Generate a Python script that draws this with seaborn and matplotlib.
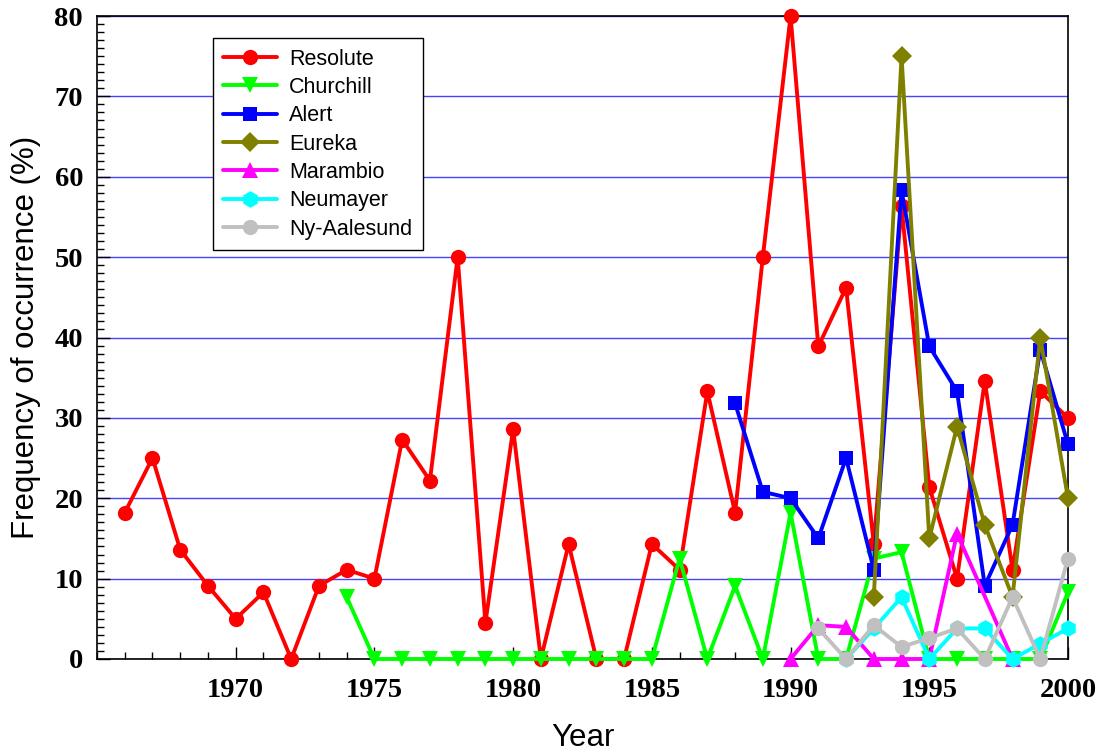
import matplotlib
matplotlib.use("Agg")
import matplotlib.pyplot as plt
import seaborn as sns
from matplotlib.ticker import MultipleLocator

sns.set_theme(style="white")
plt.rcParams['font.family'] = ['Liberation Sans', 'DejaVu Sans']
plt.rcParams['text.color'] = 'black'
plt.rcParams['axes.labelcolor'] = 'black'

# ---- data ----
resolute_years = list(range(1966, 2001))
resolute_vals = [18.2, 25.0, 13.6, 9.1, 5.0, 8.3, 0.0, 9.1, 11.1, 10.0,
                 27.3, 22.2, 50.0, 4.5, 28.6, 0.0, 14.3, 0.0, 0.0, 14.3,
                 11.1, 33.3, 18.2, 50.0, 80.0, 38.9, 46.2, 14.3, 56.3, 21.4,
                 10.0, 34.6, 11.1, 33.3, 30.0]

churchill_years = list(range(1974, 2001))
churchill_vals = [7.7, 0, 0, 0, 0, 0, 0, 0, 0, 0, 0, 0,
                  12.5, 0, 9.1, 0, 18.2, 0, 0, 12.5, 13.3, 0, 0, 0, 0, 0, 8.3]

alert_years = list(range(1988, 2001))
alert_vals = [31.8, 20.8, 20.0, 15.0, 25.0, 11.1, 58.3, 38.9, 33.3, 9.1, 16.7, 38.5, 26.7]

eureka_years = list(range(1993, 2001))
eureka_vals = [7.7, 75.0, 15.0, 28.9, 16.7, 7.7, 40.0, 20.0]

marambio_years = [1990, 1991, 1992, 1993, 1994, 1995, 1996, 1998]
marambio_vals = [0.0, 4.2, 4.0, 0.0, 0.0, 0.0, 15.6, 0.0]

neumayer_years = list(range(1992, 2001))
neumayer_vals = [0.0, 3.8, 7.7, 0.0, 3.8, 3.8, 0.0, 1.9, 3.8]

nyaalesund_years = list(range(1991, 2001))
nyaalesund_vals = [3.8, 0.0, 4.2, 1.5, 2.6, 3.8, 0.0, 7.7, 0.0, 12.5]

series = [
    ("Resolute", resolute_years, resolute_vals, "#ff0000", "o", 11),
    ("Churchill", churchill_years, churchill_vals, "#00ff00", "v", 11),
    ("Alert", alert_years, alert_vals, "#0000ff", "s", 10),
    ("Eureka", eureka_years, eureka_vals, "#808000", "D", 10),
    ("Marambio", marambio_years, marambio_vals, "#ff00ff", "^", 11),
    ("Neumayer", neumayer_years, neumayer_vals, "#00ffff", "h", 12),
    ("Ny-Aalesund", nyaalesund_years, nyaalesund_vals, "#c0c0c0", "o", 11),
]

fig = plt.figure(figsize=(10.99, 7.52), dpi=100)
ax = fig.add_axes([97/1099, 1 - 659/752, (1068-97)/1099, (659-16)/752])

for name, xs, ys, col, mk, ms in series:
    sns.lineplot(x=xs, y=ys, ax=ax, color=col, marker=mk, markersize=ms,
                 markeredgecolor=col, markeredgewidth=0, linewidth=2.8,
                 label=name, clip_on=False, zorder=3)

ax.set_xlim(1965, 2000)
ax.set_ylim(0, 80)
ax.xaxis.set_major_locator(MultipleLocator(5))
ax.xaxis.set_minor_locator(MultipleLocator(1))
ax.yaxis.set_major_locator(MultipleLocator(10))
ax.yaxis.set_minor_locator(MultipleLocator(1))
ax.set_xticks([1970, 1975, 1980, 1985, 1990, 1995, 2000])

ax.tick_params(axis='x', which='major', pad=14)
ax.tick_params(axis='y', which='major', pad=10)
ax.tick_params(axis='both', which='major', direction='in', length=9, width=1,
               colors='black', bottom=True, left=True, top=False, right=False)
ax.tick_params(axis='both', which='minor', direction='in', length=5, width=1,
               colors='black', bottom=True, left=True, top=False, right=False)
for lab in ax.get_xticklabels() + ax.get_yticklabels():
    lab.set_fontfamily('Liberation Serif')
    lab.set_fontweight('bold')
    lab.set_fontsize(20.5)
    lab.set_color('black')

ax.yaxis.grid(True, which='major', color='#3030ff', linewidth=1.0, alpha=0.9)
ax.xaxis.grid(False)
ax.set_axisbelow(True)

for s in ax.spines.values():
    s.set_visible(True)
    s.set_color('black')
    s.set_linewidth(1.2)

ax.set_xlabel("Year", fontsize=22.5, labelpad=14, color='black')
ax.set_ylabel("Frequency of occurrence (%)", fontsize=22.5, labelpad=10, color='black')

leg = ax.legend(loc='upper left', bbox_to_anchor=(0.119, 0.966), borderaxespad=0,
                fontsize=15.5, frameon=True, fancybox=False, shadow=False,
                edgecolor='black', framealpha=1, handlelength=2.5,
                labelspacing=0.34, borderpad=0.5, handletextpad=0.55)
leg.get_frame().set_linewidth(1.0)
for t in leg.get_texts():
    t.set_color('black')

fig.savefig("out.png", dpi=100)
